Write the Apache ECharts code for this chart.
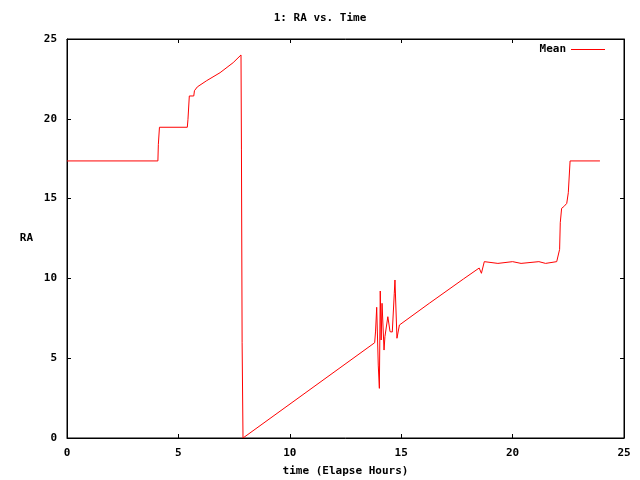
<!DOCTYPE html>
<html><head><meta charset="utf-8">
<script src="https://cdn.jsdelivr.net/npm/echarts@6/dist/echarts.min.js"></script>
<style>html,body{margin:0;padding:0;background:#fff}#c{width:640px;height:480px}</style>
</head><body><div id="c"></div>
<script>
const titleText = "1: RA vs. Time";
const xLabel = "time (Elapse Hours)";
const yLabel = "RA";
const seriesName = "Mean";
const hours = [0, 4.08, 4.1, 4.15, 5.4, 5.43, 5.49, 5.69, 5.72, 5.85, 6.27, 6.87, 7.46, 7.81, 7.83, 7.86, 7.9,
  13.81, 13.85, 13.9, 13.97, 14.02, 14.06, 14.1, 14.14, 14.23, 14.27, 14.4, 14.5, 14.6, 14.69, 14.72, 14.81, 14.92,
  16.26, 17.79, 18.5, 18.6, 18.73, 18.8, 19.34, 19.4, 20.0, 20.05, 20.38, 20.43, 21.18, 21.22, 21.48, 21.52, 21.98,
  22.03, 22.11, 22.14, 22.2, 22.3, 22.43, 22.5, 22.58, 23.92];
const ra = [17.36, 17.36, 18.4, 19.47, 19.47, 19.97, 21.43, 21.43, 21.76, 22.0, 22.39, 22.89, 23.52, 24.0, 18.05, 5.97, 0,
  5.97, 6.7, 8.19, 4.57, 3.11, 9.21, 6.14, 8.44, 5.51, 6.35, 7.6, 6.66, 6.64, 9.07, 9.9, 6.25, 7.08,
  8.44, 9.96, 10.65, 10.32, 11.05, 10.94, 10.94, 11.05, 11.05, 10.94, 10.94, 11.05, 11.05, 10.94, 10.94, 11.05, 11.05,
  10.94, 11.82, 13.49, 14.39, 14.5, 14.7, 15.37, 17.36, 17.36];
const xTicks = [0, 5, 10, 15, 20, 25];
const yTicks = [0, 5, 10, 15, 20, 25];

const font = "'DejaVu Sans Mono', monospace";
const chart = echarts.init(document.getElementById('c'), null, {renderer: 'canvas'});
function tick() { return {show: true, inside: true, length: 4, lineStyle: {color: '#000', width: 1}}; }
function line() { return {show: true, onZero: false, lineStyle: {color: '#000', width: 1}}; }
function lab(extra) { return Object.assign({color: '#000', fontFamily: font, fontSize: 11, fontWeight: 'bold'}, extra || {}); }
function xAx(pos, showLab) {
  const a = {type: 'value', gridIndex: 0, min: xTicks[0], max: xTicks[xTicks.length-1], interval: 5, position: pos,
    axisLine: line(), axisTick: tick(), splitLine: {show: false}, minorTick: {show: false},
    axisLabel: showLab ? lab({margin: 10}) : {show: false}};
  if (showLab) Object.assign(a, {name: xLabel, nameLocation: 'middle', nameGap: 28, nameTextStyle: lab()});
  return a;
}
function yAx(pos, showLab) {
  const a = {type: 'value', gridIndex: 0, min: yTicks[0], max: yTicks[yTicks.length-1], interval: 5, position: pos,
    axisLine: line(), axisTick: tick(), splitLine: {show: false}, minorTick: {show: false},
    axisLabel: showLab ? lab({margin: 10}) : {show: false}};
  if (showLab) Object.assign(a, {name: yLabel, nameLocation: 'middle', nameRotate: 0, nameGap: 34, nameTextStyle: lab()});
  return a;
}
chart.setOption({
  animation: false,
  backgroundColor: '#fff',
  title: {text: titleText, left: 'center', top: 8, textStyle: lab()},
  legend: {right: 30, top: 39, icon: 'rect', itemWidth: 34, itemHeight: 1, align: 'right', itemGap: 8,
    textStyle: lab(), data: [seriesName]},
  grid: {left: 67, top: 39, width: 557, height: 399, containLabel: false, outerBoundsMode: 'none',
    show: true, borderColor: '#000', borderWidth: 1, backgroundColor: 'transparent'},
  xAxis: [xAx('bottom', true), xAx('top', false)],
  yAxis: [yAx('left', true), yAx('right', false)],
  series: [{
    name: seriesName, type: 'line', xAxisIndex: 0, yAxisIndex: 0,
    data: hours.map((h, i) => [h, ra[i]]),
    showSymbol: false, symbol: 'none',
    lineStyle: {color: '#ff0000', width: 1}, itemStyle: {color: '#ff0000'}
  }, {
    name: 'frame', type: 'line', xAxisIndex: 1, yAxisIndex: 1, data: [], silent: true
  }]
});
</script></body></html>
